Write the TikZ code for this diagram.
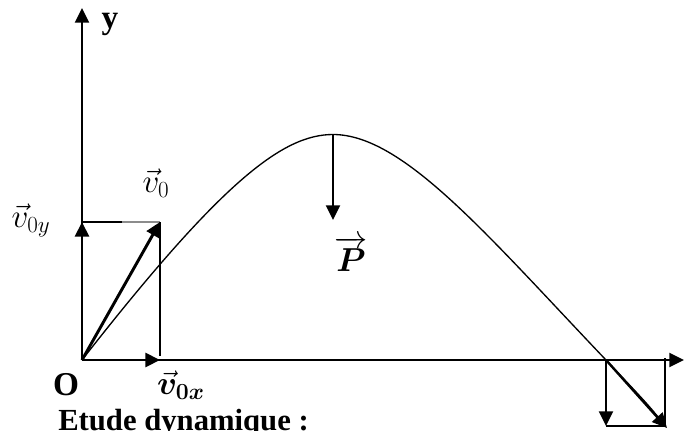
\documentclass[tikz,border=0pt]{standalone}
\usepackage{amsmath,bm}
\usepackage{fontspec}
\setmainfont{Liberation Serif}
\usetikzlibrary{arrows.meta}

\tikzset{
    axis/.style={line width=1.5pt, -{Triangle[length=11pt,width=10.5pt]}},
    vecarrow/.style={line width=2.2pt, -{Triangle[length=11pt,width=10.5pt]}},
    thinline/.style={line width=1.1pt},
    traj/.style={line width=1pt},
    lbl/.style={font=\fontsize{25}{28}\selectfont\bfseries, inner sep=0pt},
    mlbl/.style={font=\fontsize{25}{28}\selectfont, inner sep=0pt}
}

\begin{document}
\begin{tikzpicture}[x=0.75pt, y=-0.75pt]
    % frame of the picture
    \useasboundingbox (0,0) rectangle (690,430);

    % key points
    \coordinate (O) at (82,360);
    \coordinate (xend) at (684,360);
    \coordinate (yend) at (82,8);
    \coordinate (v0) at (160,222);
    \coordinate (v0x) at (160,360);
    \coordinate (v0y) at (82,222);
    \coordinate (top) at (333,134.5);
    \coordinate (ptip) at (333,220);
    \coordinate (hit) at (606,360);
    \coordinate (vdown) at (606,426);
    \coordinate (vend) at (667,428);
    \coordinate (corner) at (665,426);
    \coordinate (cornerup) at (665,358);

    % Axes
    \draw[axis] (O) -- (xend);
    \draw[axis] (O) -- (yend);

    % Trajectory
    \draw[traj] (O) .. controls (222,180.8) and (283,134.5) .. (top)
        .. controls (403,134.5) and (486,234) .. (hit)
        .. controls (635,391) and (652,408) .. (664,425);

    % Initial velocity and its components
    \draw[line width=1.4pt] (v0y) -- (122,222);
    \draw[thinline, black!45] (122,222) -- (v0);
    \draw[line width=1.5pt] (v0) -- (160,356);
    \draw[vecarrow] (O) -- (v0y);
    \draw[vecarrow] (O) -- (v0x);
    \draw[vecarrow] (O) -- (v0);

    % Weight at the top
    \draw[vecarrow, line width=1.6pt] (top) -- (ptip);

    % Velocity at the landing point
    \draw[thinline] (vdown) -- (corner) -- (cornerup);
    \draw[vecarrow, line width=1.6pt] (hit) -- (vdown);
    \draw[vecarrow, line width=1.8pt] (hit) -- (vend);

    % Labels
    \node[lbl] (ylab) at (110,24) {y};
    \node[lbl] (olab) at (66,385) {O};
    \node[mlbl] (v0lab) at (156,183) {$\vec{v}_0$};
    \node[mlbl] (v0ylab) at (31,220) {$\vec{v}_{0y}$};
    \node[mlbl] (v0xlab) at (181,385) {$\vec{\bm{v}}_{\bm{0x}}$};
    \node[mlbl] (plab) at (351,254) {$\overrightarrow{\bm{P}}$};
    \node[lbl, anchor=base west, font=\fontsize{23}{26}\selectfont\bfseries] (etude) at (58,430) {Etude dynamique :};
\end{tikzpicture}
\end{document}
